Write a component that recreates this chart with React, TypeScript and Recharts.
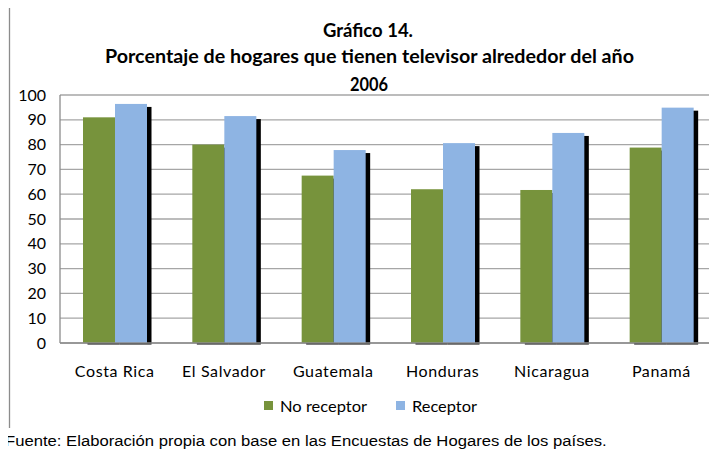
import React, { useLayoutEffect, useRef, useState } from "react";
import { BarChart, Bar, XAxis, YAxis, CartesianGrid } from "recharts";

const categories = ["Costa Rica", "El Salvador", "Guatemala", "Honduras", "Nicaragua", "Panamá"];
const noReceptor = [91, 80, 67.5, 62, 61.7, 78.8];
const receptor = [96.4, 91.5, 77.8, 80.6, 84.7, 94.9];
const seriesNames = ["No receptor", "Receptor"];
const yTicks = [0, 10, 20, 30, 40, 50, 60, 70, 80, 90, 100];
const titleLines = ["Gráfico 14.", "Porcentaje de hogares que tienen televisor alrededor del año", "2006"];
const footnote = "Fuente: Elaboración propia con base en las Encuestas de Hogares de los países.";

const GREEN = "#77933C";
const BLUE = "#8EB4E3";
const FONT = "Lato, 'Open Sans', sans-serif";

const data = categories.map((c, i) => ({ name: c, noReceptor: noReceptor[i], receptor: receptor[i] }));

const makeShape = (fill: string) => (props: any) => {
  const { x, y, width, height } = props;
  if (height <= 0) return null;
  return (
    <g>
      <rect x={x + 4.5} y={y + 3} width={width} height={height - 1.5} fill="#000" />
      <rect x={x} y={y} width={width} height={height} fill={fill} />
    </g>
  );
};

const XTick = (props: any) => {
  const { x, y, payload } = props;
  return (
    <text x={x} y={y + 34} textAnchor="middle" fill="#000" fontSize={16} fontFamily={FONT} letterSpacing={0.6}>
      {payload.value}
    </text>
  );
};

function Footnote() {
  const ref = useRef<SVGTextElement>(null);
  const [sx, setSx] = useState(1);
  useLayoutEffect(() => {
    if (ref.current) {
      const len = ref.current.getComputedTextLength();
      if (len > 0) setSx(602 / len);
    }
  }, []);
  return (
    <g transform={`translate(5,0) scale(${sx},1)`}>
      <text ref={ref} x={0} y={446} fontSize={15} fontFamily="'Liberation Sans', Arial, sans-serif" fill="#000">
        {footnote}
      </text>
    </g>
  );
}

export default function App() {
  return (
    <div style={{ position: "relative", width: 717, height: 450, margin: "-8px 0 0 -8px", background: "#fff", overflow: "hidden" }}>
      <BarChart
        width={717}
        height={450}
        data={data}
        margin={{ top: 95, right: 1, bottom: 77, left: 0 }}
        barSize={32}
        barGap={0}
      >
        <CartesianGrid vertical={false} stroke="#a6a6a6" strokeWidth={1.3} />
        <XAxis
          dataKey="name"
          height={30}
          tickLine={false}
          tickSize={0}
          tickMargin={0}
          axisLine={{ stroke: "#8c8c8c", strokeWidth: 1.3 }}
          tick={<XTick />}
          interval={0}
        />
        <YAxis
          width={60}
          domain={[0, 100]}
          ticks={yTicks}
          interval={0}
          tickLine={false}
          tickSize={0}
          tickMargin={14}
          axisLine={{ stroke: "#8c8c8c", strokeWidth: 1.3 }}
          tick={{ fill: "#000", fontSize: 16, fontFamily: FONT }}
        />
        <Bar dataKey="noReceptor" name={seriesNames[0]} fill={GREEN} shape={makeShape(GREEN)} isAnimationActive={false} />
        <Bar dataKey="receptor" name={seriesNames[1]} fill={BLUE} shape={makeShape(BLUE)} isAnimationActive={false} />
      </BarChart>
      <svg width={717} height={450} style={{ position: "absolute", left: 0, top: 0, pointerEvents: "none" }}>
        <line x1={9.5} y1={5} x2={717} y2={5} stroke="#8c8c8c" strokeWidth={1.3} />
        <line x1={9.5} y1={5} x2={9.5} y2={428} stroke="#8c8c8c" strokeWidth={1.3} />
        <text x={368} y={37} textAnchor="middle" fontSize={18} fontWeight="bold" fontFamily={FONT} fill="#000" textLength={90} lengthAdjust="spacingAndGlyphs">{titleLines[0]}</text>
        <text x={369.5} y={63} textAnchor="middle" fontSize={18} fontWeight="bold" fontFamily={FONT} fill="#000" textLength={529} lengthAdjust="spacingAndGlyphs">{titleLines[1]}</text>
        <text x={369} y={91} textAnchor="middle" fontSize={18} fontWeight="bold" fontFamily={FONT} fill="#000" textLength={38} lengthAdjust="spacingAndGlyphs">{titleLines[2]}</text>
        <rect x={264} y={401} width={9} height={9} fill={GREEN} />
        <text x={280} y={412} fontSize={16} fontFamily={FONT} fill="#000" textLength={87} lengthAdjust="spacingAndGlyphs">{seriesNames[0]}</text>
        <rect x={396} y={401} width={9} height={9} fill={BLUE} />
        <text x={412} y={412} fontSize={16} fontFamily={FONT} fill="#000" textLength={65} lengthAdjust="spacingAndGlyphs">{seriesNames[1]}</text>
        <Footnote />
      </svg>
    </div>
  );
}
